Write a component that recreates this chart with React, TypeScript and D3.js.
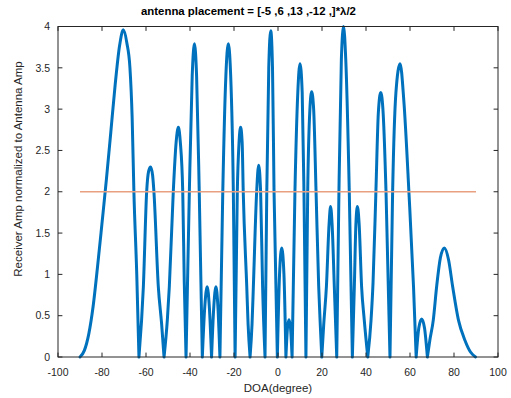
import React from "react";
import * as d3 from "d3";

const title = "antenna placement = [-5 ,6 ,13 ,-12 ,]*λ/2";
const xLabel = "DOA(degree)";
const yLabel = "Receiver Amp normalized to Antenna Amp";
const xTicks = [-100, -80, -60, -40, -20, 0, 20, 40, 60, 80, 100];
const yTicks = [0, 0.5, 1, 1.5, 2, 2.5, 3, 3.5, 4];
const thresholdX = [-90, 90];
const thresholdY = 2;

// DOA (deg) and amplitude
const doa = [
  -90, -88, -86, -84, -82, -80, -78, -76, -74, -72, -70.3, -68.7, -67.3, -66.3, -65.5, -64.2, -63.2,
  -61.2, -59.7, -58.8, -57.9, -57, -56.4, -54.4, -52.9, -51.8,
  -50.3, -49.4, -47.6, -46.3, -45.3, -44.4, -43.3, -42.6, -41.8,
  -40.3, -39, -38, -37, -35.8, -34.4,
  -33.3, -32.2, -31.2, -30.2,
  -29.2, -28.2, -27.3, -26.4,
  -25.1, -23.7, -22.6, -21.5, -20.3, -19.5,
  -18.5, -17.7, -17, -16.3, -15.8, -14.2, -13.6, -12.7,
  -11.8, -11.2, -9.7, -8.8, -7.9, -7, -5.9,
  -5.1, -4.2, -3.3, -2.5, -1.8, -0.3,
  0.7, 1.7, 2.7, 3.6,
  4.3, 5, 5.7, 6.4,
  7.7, 9, 10, 11, 11.8, 12.7,
  13.5, 14.5, 15.3, 16.2, 17.3, 18.5, 19.2, 19.9,
  20.8, 22, 23.2, 23.9, 24.6, 25.6, 26.7,
  27.7, 28.8, 29.8, 30.8, 32.4, 33.8,
  34.7, 35.4, 36.1, 36.9, 38, 39.2, 40.8,
  42.3, 43.2, 44.5, 45.6, 46.7, 47.8, 49.1, 50.9,
  52.1, 53.6, 55.5, 57.2, 59.5, 61.6, 62.8,
  64, 65.3, 66.6, 67.9,
  69, 70.6, 72.1, 73.8, 75.6, 77.5, 79.4, 82, 85, 87.5, 89.8,
];
const amp = [
  0, 0.08, 0.28, 0.62, 1.1, 1.62, 2.15, 2.72, 3.3, 3.77, 3.96, 3.8, 3.5, 2.9, 2.0, 1.0, 0,
  0.85, 2.0, 2.25, 2.3, 2.2, 2.0, 0.85, 0.4, 0,
  0.45, 0.85, 2.0, 2.6, 2.78, 2.6, 2.0, 0.9, 0,
  2.0, 3.4, 3.79, 3.4, 2.0, 0,
  0.6, 0.85, 0.6, 0,
  0.6, 0.85, 0.6, 0,
  2.0, 3.4, 3.79, 3.4, 2.0, 0,
  2.0, 2.6, 2.78, 2.6, 2.0, 0.85, 0.4, 0,
  0.4, 0.85, 2.0, 2.32, 2.0, 0.85, 0,
  2.0, 3.5, 3.95, 3.5, 2.0, 0,
  1.0, 1.32, 1.0, 0,
  0.35, 0.45, 0.35, 0,
  2.0, 3.2, 3.55, 3.2, 2.0, 0,
  2.0, 3.0, 3.21, 3.0, 2.0, 0.85, 0.4, 0,
  0.4, 0.85, 1.6, 1.82, 1.6, 0.85, 0,
  2.0, 3.6, 4.0, 3.6, 2.0, 0,
  0.85, 1.6, 1.82, 1.6, 0.85, 0.45, 0,
  0.45, 0.9, 2.0, 2.95, 3.2, 2.95, 2.0, 0,
  2.0, 3.2, 3.55, 3.1, 2.0, 0.85, 0,
  0.35, 0.46, 0.35, 0,
  0.2, 0.45, 0.85, 1.2, 1.32, 1.18, 0.85, 0.45, 0.2, 0.06, 0,
];

const W = 511;
const H = 398;
const M = { left: 58, right: 13, top: 26.5, bottom: 41 };

export default function App() {
  const x = d3.scaleLinear().domain([-100, 100]).range([M.left, W - M.right]);
  const y = d3.scaleLinear().domain([0, 4]).range([H - M.bottom, M.top]);

  const pts = doa.map((d, i) => [d, amp[i]] as [number, number]);
  // split into lobes at zeros so each null stays sharp
  const segs: [number, number][][] = [];
  let cur: [number, number][] = [];
  pts.forEach((p) => {
    cur.push(p);
    if (p[1] === 0 && cur.length > 1) {
      segs.push(cur);
      cur = [p];
    }
  });
  if (cur.length > 1) segs.push(cur);
  const line = d3
    .line<[number, number]>()
    .x((d) => x(d[0]))
    .y((d) => y(d[1]))
    .curve(d3.curveMonotoneX);
  const pathD = segs.map((s) => line(s)).join("");

  const x0 = M.left, x1 = W - M.right, y0 = H - M.bottom, y1 = M.top;
  const axisColor = "#262626";
  const tl = 4.4;
  const font = "'Liberation Sans', Arial, Helvetica, sans-serif";

  return (
    <svg width={W} height={H} style={{ position: "absolute", left: 0, top: 0, background: "#fff" }} fontFamily={font}>
      <rect x={0} y={0} width={W} height={H} fill="#fff" />
      <path d={pathD} fill="none" stroke="#0072BD" strokeWidth={3} strokeLinejoin="round" strokeLinecap="round" />
      <line x1={x(thresholdX[0])} x2={x(thresholdX[1])} y1={y(thresholdY)} y2={y(thresholdY)} stroke="#E8A080" strokeWidth={1.5} />
      <rect x={x0} y={y1} width={x1 - x0} height={y0 - y1} fill="none" stroke={axisColor} strokeWidth={1} />
      {xTicks.map((t) => (
        <g key={"x" + t}>
          <line x1={x(t)} x2={x(t)} y1={y0} y2={y0 - tl} stroke={axisColor} />
          <line x1={x(t)} x2={x(t)} y1={y1} y2={y1 + tl} stroke={axisColor} />
          <text x={x(t)} y={375.5} fontSize={10.5} textAnchor="middle" fill="#262626">{t}</text>
        </g>
      ))}
      {yTicks.map((t) => (
        <g key={"y" + t}>
          <line x1={x0} x2={x0 + tl} y1={y(t)} y2={y(t)} stroke={axisColor} />
          <line x1={x1} x2={x1 - tl} y1={y(t)} y2={y(t)} stroke={axisColor} />
          <text x={50} y={y(t) + 3.7} fontSize={10.5} textAnchor="end" fill="#262626">{t}</text>
        </g>
      ))}
      <text x={278} y={392} fontSize={11.5} textAnchor="middle" fill="#262626">{xLabel}</text>
      <text transform={`translate(22,${169}) rotate(-90)`} fontSize={11.5} textAnchor="middle" fill="#262626">{yLabel}</text>
      <text x={141} y={15} fontSize={11.4} fontWeight="bold" textAnchor="start" fill="#000">{title}</text>
    </svg>
  );
}
